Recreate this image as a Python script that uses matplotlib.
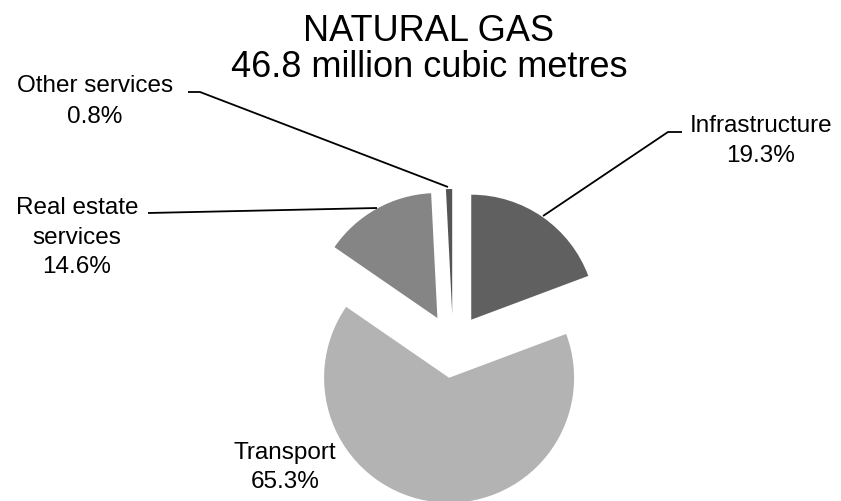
import numpy as np
import matplotlib
matplotlib.use("Agg")
import matplotlib.pyplot as plt

plt.rcParams["font.family"] = ["Liberation Sans", "DejaVu Sans"]

# data (clockwise from 12 o'clock)
sectors = ["Infrastructure", "Transport", "Real estate services", "Other services"]
shares = [19.3, 65.3, 14.6, 0.8]
colors = ["#606060", "#b3b3b3", "#858585", "#555555"]

W, H = 841, 501


def Y(y):
    # image rows -> data y (axes run bottom-up)
    return H - y


fig = plt.figure(figsize=(W / 100, H / 100), dpi=100)
ax = fig.add_axes([0, 0, 1, 1])

# explode is in data units here (radius is 125 px)
ax.pie(shares, startangle=90, counterclock=False, colors=colors,
       explode=[32] * len(shares), radius=125, center=(453, Y(346)),
       wedgeprops=dict(linewidth=0))
ax.set_xlim(0, W)
ax.set_ylim(0, H)
ax.set_aspect("auto")
ax.axis("off")

# title
ax.text(429, Y(41), "NATURAL GAS", fontsize=26, ha="center", va="baseline")
ax.text(429, Y(77), "46.8 million cubic metres", fontsize=26, ha="center", va="baseline")

# labels: (x centre, baselines, lines)
labels = [
    (761, [132, 162], ["Infrastructure", f"{shares[0]}%"]),
    (285, [459, 488], ["Transport", f"{shares[1]}%"]),
    (77, [214, 244, 273], ["Real estate", "services", f"{shares[2]}%"]),
    (95, [92, 123], ["Other services", f"{shares[3]}%"]),
]
for x, ys, lines in labels:
    for yb, s in zip(ys, lines):
        ax.text(x, Y(yb), s, fontsize=17.5, ha="center", va="baseline")

# leader lines
leaders = [
    [(682, 132), (668, 132), (543, 216)],
    [(148, 213), (377, 208)],
    [(188, 92), (200, 92), (448, 187)],
]
for pts in leaders:
    xs = [p[0] for p in pts]
    ys = [Y(p[1]) for p in pts]
    ax.plot(xs, ys, color="black", linewidth=1.3, solid_capstyle="butt")

fig.savefig("out.png", dpi=100, facecolor="white")
